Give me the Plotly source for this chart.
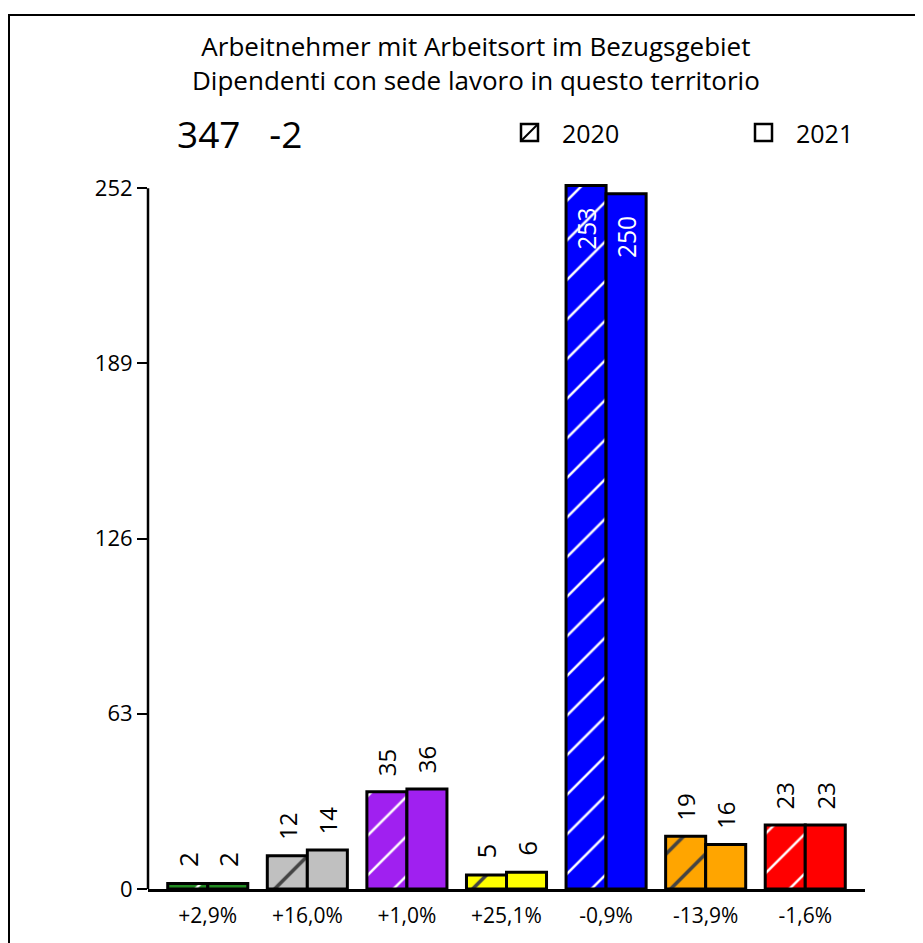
import plotly.graph_objects as go

# ---- data ----
categories = ["g1", "g2", "g3", "g4", "g5", "g6", "g7"]
pct_labels = ["+2,9%", "+16,0%", "+1,0%", "+25,1%", "-0,9%", "-13,9%", "-1,6%"]
values_2020 = [2, 12, 35, 5, 253, 19, 23]
values_2021 = [2, 14, 36, 6, 250, 16, 23]
bar_colors = ["#228B22", "#C0C0C0", "#A020F0", "#FFFF00", "#0000FF", "#FFA500", "#FF0000"]
hatch_colors = ["white", "black", "white", "black", "white", "black", "white"]
text_pos = ["outside", "outside", "outside", "outside", "inside", "outside", "outside"]
y_ticks = [0, 63, 126, 189, 252]
title_lines = ["Arbeitnehmer mit Arbeitsort im Bezugsgebiet",
               "Dipendenti con sede lavoro in questo territorio"]
headline = "347   -2"
legend_labels = ["2020", "2021"]

FONT = "Open Sans"
OFF = 8  # page body margin
W, H = 923, 943
L, R, T, B = 140, 857, 176, 881
PW, PH = R - L, B - T
NB = "\u00a0"


def px(x):  # screenshot x -> paper
    return (x - OFF - L) / PW


def py(y):  # screenshot y -> paper
    return (B - (y - OFF)) / PH


def labels(vals):
    out = []
    for v, p in zip(vals, text_pos):
        out.append(NB * 2 + str(v) if p == "outside" else str(v) + NB * 3)
    return out


hatch_solidity = [0.09 if c == "white" else 0.13 for c in hatch_colors]

fig = go.Figure()
fig.add_trace(go.Bar(
    x=categories, y=values_2020, name=legend_labels[0],
    marker=dict(color=bar_colors, line=dict(color="black", width=3),
                pattern=dict(shape="/", fgcolor=hatch_colors, fgopacity=1,
                             size=28, solidity=hatch_solidity, fillmode="overlay")),
    text=labels(values_2020), textposition=text_pos, textangle=-90,
    insidetextanchor="end",
    outsidetextfont=dict(color="black", size=26, family=FONT),
    insidetextfont=dict(color="white", size=26, family=FONT),
    cliponaxis=False,
))
fig.add_trace(go.Bar(
    x=categories, y=values_2021, name=legend_labels[1],
    marker=dict(color=bar_colors, line=dict(color="black", width=3)),
    text=labels(values_2021), textposition=text_pos, textangle=-90,
    insidetextanchor="end",
    outsidetextfont=dict(color="black", size=26, family=FONT),
    insidetextfont=dict(color="white", size=26, family=FONT),
    cliponaxis=False,
))

fig.update_layout(
    width=W, height=H,
    margin=dict(l=L, r=W - R, t=T, b=H - B, pad=0),
    paper_bgcolor="white", plot_bgcolor="white",
    barmode="group", bargap=0.196, bargroupgap=0,
    showlegend=False,
    font=dict(family=FONT, color="black", size=21),
)
fig.update_xaxes(
    range=[-0.6, 6.6], tickmode="array", tickvals=categories, ticktext=pct_labels,
    showline=True, linecolor="black", linewidth=3, ticks="", showgrid=False,
    zeroline=False, tickfont=dict(size=21, family=FONT), ticklabelstandoff=6,
)
fig.update_yaxes(
    range=[0, 253.5], tickmode="array", tickvals=y_ticks, ticktext=[str(v) for v in y_ticks],
    showline=False, ticks="outside", ticklen=10, tickwidth=2, tickcolor="black",
    showgrid=False, zeroline=False, tickfont=dict(size=22, family=FONT),
)

# y axis line (0..252)
fig.add_shape(type="line", xref="paper", yref="y", x0=0, x1=0, y0=0, y1=y_ticks[-1],
              line=dict(color="black", width=2.5))
# outer frame
fig.add_shape(type="rect", xref="paper", yref="paper", x0=px(9), x1=px(945), y0=py(15), y1=py(965),
              line=dict(color="black", width=2), fillcolor="rgba(0,0,0,0)", layer="below")

# title
fig.add_annotation(text="<br>".join(title_lines), xref="paper", yref="paper", x=px(476), y=py(63),
                   showarrow=False, xanchor="center", yanchor="middle", align="center",
                   font=dict(size=26, family=FONT))
# headline numbers
fig.add_annotation(text=headline.replace(" ", NB), xref="paper", yref="paper", x=px(175), y=py(133),
                   showarrow=False, xanchor="left", yanchor="middle",
                   font=dict(size=37, family=FONT))
# legend
for (bx, tx, lab, hatch) in [(521, 560, legend_labels[0], True), (755, 794, legend_labels[1], False)]:
    fig.add_shape(type="rect", xref="paper", yref="paper", x0=px(bx), x1=px(bx + 17),
                  y0=py(141), y1=py(124), line=dict(color="black", width=2.5), fillcolor="white")
    if hatch:
        fig.add_shape(type="line", xref="paper", yref="paper", x0=px(bx), x1=px(bx + 17),
                      y0=py(141), y1=py(124), line=dict(color="black", width=2))
    fig.add_annotation(text=lab, xref="paper", yref="paper", x=px(tx), y=py(133),
                       showarrow=False, xanchor="left", yanchor="middle",
                       font=dict(size=25, family=FONT))

fig.write_html("out.html")
